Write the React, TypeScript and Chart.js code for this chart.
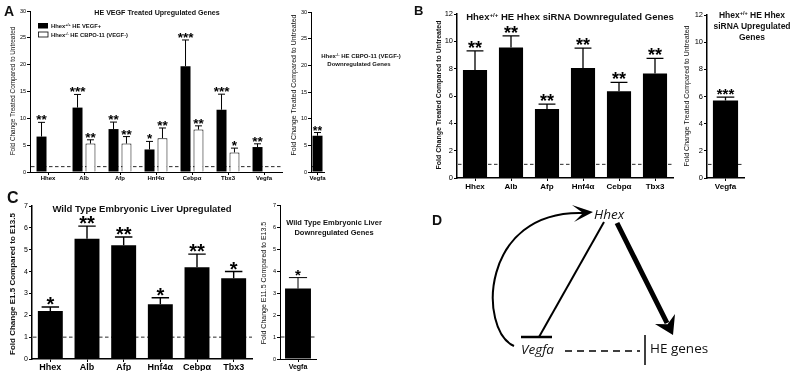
import React, { useEffect, useRef } from 'react';
import { Chart, registerables } from 'chart.js';

Chart.register(...registerables);

const FONT = '"Liberation Sans", Arial, Helvetica, sans-serif';
const DFONT = '"Open Sans", "Noto Sans", sans-serif';

// ---------- Panel A : HE VEGF treated ----------
const aGenes = ['Hhex', 'Alb', 'Afp', 'Hnf4α', 'Cebpα', 'Tbx3', 'Vegfa'];
const aVegfPlus = [6.6, 12.0, 8.0, 4.2, 19.7, 11.6, 4.65];
const aVegfPlusSem = [2.65, 2.45, 1.3, 1.5, 4.9, 2.9, 0.6];
const aVegfPlusStars = ['**', '***', '**', '*', '***', '***', '**'];
const aCbpo = [null, 5.3, 5.3, 6.3, 7.9, 3.65, null];
const aCbpoSem = [null, 0.7, 1.3, 1.9, 0.7, 0.8, null];
const aCbpoStars = ['', '**', '**', '**', '**', '*', ''];
const aDownGenes = ['Vegfa'];
const aDownValues = [6.8];
const aDownSem = [0.6];
const aDownStars = ['**'];

// ---------- Panel B : Hhex siRNA ----------
const bGenes = ['Hhex', 'Alb', 'Afp', 'Hnf4α', 'Cebpα', 'Tbx3'];
const bDown = [7.9, 9.55, 5.05, 8.05, 6.35, 7.65];
const bDownSem = [1.4, 0.85, 0.35, 1.45, 0.65, 1.1];
const bDownStars = ['**', '**', '**', '**', '**', '**'];
const bUpGenes = ['Vegfa'];
const bUp = [5.7];
const bUpSem = [0.25];
const bUpStars = ['***'];

// ---------- Panel C : wild type embryonic liver ----------
const cGenes = ['Hhex', 'Alb', 'Afp', 'Hnf4α', 'Cebpα', 'Tbx3'];
const cUp = [2.2, 5.5, 5.2, 2.5, 4.2, 3.7];
const cUpSem = [0.18, 0.58, 0.38, 0.3, 0.6, 0.3];
const cUpStars = ['*', '**', '**', '*', '**', '*'];
const cDownGenes = ['Vegfa'];
const cDown = [3.2];
const cDownSem = [0.5];
const cDownStars = ['*'];

const aYMax = 30, aYStep = 5;
const bYMax = 12, bYStep = 2;
const cYMax = 7, cYStep = 1;

interface Series { values: (number | null)[]; sem: (number | null)[]; stars: string[]; fill: string; border: number; }
interface PanelCfg {
  labels: string[]; series: Series[];
  axisX: number; axisR: number; yTop: number; yZero: number; yW: number; xH: number;
  yMax: number; yStep: number; barPct: number; catPct: number;
  yTickSize: number; xTickSize: number; xPad: number; axisW: number;
  starSize: number; starGap: number; capRatio: number; errW: number;
}

const black = (values: (number | null)[], sem: (number | null)[], stars: string[]): Series => ({ values, sem, stars, fill: '#000', border: 0 });
const white = (values: (number | null)[], sem: (number | null)[], stars: string[]): Series => ({ values, sem, stars, fill: '#fff', border: 1 });

const panels: PanelCfg[] = [
  { labels: aGenes, series: [black(aVegfPlus, aVegfPlusSem, aVegfPlusStars), white(aCbpo, aCbpoSem, aCbpoStars)],
    axisX: 30, axisR: 282, yTop: 11, yZero: 172, yW: 24, xH: 14, yMax: aYMax, yStep: aYStep, barPct: 0.77, catPct: 0.72,
    yTickSize: 5.5, xTickSize: 6, xPad: 0, axisW: 1, starSize: 13.5, starGap: 2, capRatio: 0.35, errW: 1 },
  { labels: aDownGenes, series: [black(aDownValues, aDownSem, aDownStars)],
    axisX: 311, axisR: 324, yTop: 12, yZero: 172, yW: 20, xH: 14, yMax: aYMax, yStep: aYStep, barPct: 0.77, catPct: 1,
    yTickSize: 5.5, xTickSize: 6, xPad: 0, axisW: 1, starSize: 12, starGap: 1.5, capRatio: 0.35, errW: 1 },
  { labels: bGenes, series: [black(bDown, bDownSem, bDownStars)],
    axisX: 457, axisR: 673, yTop: 14, yZero: 178, yW: 20, xH: 14, yMax: bYMax, yStep: bYStep, barPct: 0.67, catPct: 1,
    yTickSize: 7.5, xTickSize: 8, xPad: 1, axisW: 1.5, starSize: 18, starGap: 3, capRatio: 0.35, errW: 1.3 },
  { labels: bUpGenes, series: [black(bUp, bUpSem, bUpStars)],
    axisX: 707, axisR: 744, yTop: 15, yZero: 178, yW: 20, xH: 14, yMax: bYMax, yStep: bYStep, barPct: 0.68, catPct: 1,
    yTickSize: 7.5, xTickSize: 8, xPad: 1, axisW: 1.5, starSize: 15, starGap: 2.5, capRatio: 0.35, errW: 1.3 },
  { labels: cGenes, series: [black(cUp, cUpSem, cUpStars)],
    axisX: 32, axisR: 252, yTop: 206, yZero: 359, yW: 24, xH: 12, yMax: cYMax, yStep: cYStep, barPct: 0.68, catPct: 1,
    yTickSize: 7, xTickSize: 9, xPad: 0.5, axisW: 1.5, starSize: 20, starGap: 2, capRatio: 0.35, errW: 1.4 },
  { labels: cDownGenes, series: [black(cDown, cDownSem, cDownStars)],
    axisX: 280, axisR: 316, yTop: 205, yZero: 359, yW: 14, xH: 12, yMax: cYMax, yStep: cYStep, barPct: 0.72, catPct: 1,
    yTickSize: 5.5, xTickSize: 7, xPad: 0.5, axisW: 1, starSize: 15, starGap: 2, capRatio: 0.35, errW: 1 },
];

const overlayPlugin = {
  id: 'overlay',
  beforeDatasetsDraw(chart: any) {
    const { ctx, chartArea, scales } = chart;
    const y = scales.y.getPixelForValue(1);
    ctx.save();
    ctx.strokeStyle = '#111';
    ctx.lineWidth = 0.9;
    ctx.setLineDash([3.5, 2.5]);
    ctx.beginPath();
    ctx.moveTo(chartArea.left + 1, y);
    ctx.lineTo(chartArea.right, y);
    ctx.stroke();
    ctx.restore();
  },
  afterDatasetsDraw(chart: any, _args: any, opts: any) {
    const { ctx, scales } = chart;
    chart.data.datasets.forEach((ds: any, di: number) => {
      const meta = chart.getDatasetMeta(di);
      meta.data.forEach((bar: any, i: number) => {
        const v = ds.data[i];
        const e = ds.sem[i];
        if (v == null || e == null) return;
        const x = bar.x;
        const w = bar.width;
        const yv = scales.y.getPixelForValue(v);
        const ye = scales.y.getPixelForValue(v + e);
        ctx.save();
        ctx.strokeStyle = '#000';
        ctx.lineWidth = opts.errW;
        ctx.beginPath();
        ctx.moveTo(x, yv);
        ctx.lineTo(x, ye);
        ctx.moveTo(x - w * opts.capRatio, ye);
        ctx.lineTo(x + w * opts.capRatio, ye);
        ctx.stroke();
        const s = ds.stars[i];
        if (s) {
          ctx.font = `bold ${opts.starSize}px ${FONT}`;
          ctx.textAlign = 'center';
          ctx.textBaseline = 'alphabetic';
          ctx.fillStyle = '#000';
          const m = ctx.measureText(s);
          ctx.fillText(s, x, ye - opts.starGap - m.actualBoundingBoxDescent);
        }
        ctx.restore();
      });
    });
  },
};

function buildChart(canvas: HTMLCanvasElement, p: PanelCfg) {
  return new Chart(canvas, {
    type: 'bar',
    data: {
      labels: p.labels,
      datasets: p.series.map((s) => ({
        data: s.values as any,
        sem: s.sem,
        stars: s.stars,
        backgroundColor: s.fill,
        borderColor: '#000',
        borderWidth: s.border,
        barPercentage: p.barPct,
        categoryPercentage: p.catPct,
      })) as any,
    },
    options: {
      animation: false,
      responsive: false,
      maintainAspectRatio: false,
      events: [],
      layout: {
        autoPadding: false,
        padding: { left: p.axisX - p.yW, top: p.yTop, right: 796 - p.axisR, bottom: 372 - p.yZero - p.xH },
      },
      plugins: {
        legend: { display: false },
        tooltip: { enabled: false },
        title: { display: false },
        overlay: { starSize: p.starSize, starGap: p.starGap, capRatio: p.capRatio, errW: p.errW },
      } as any,
      scales: {
        x: {
          type: 'category',
          offset: true,
          grid: { display: true, drawOnChartArea: false, drawTicks: true, tickLength: 3, offset: false, color: '#000', lineWidth: 1 },
          border: { display: true, color: '#000', width: p.axisW },
          ticks: { color: '#000', font: { family: FONT, size: p.xTickSize, weight: 'bold' }, padding: p.xPad, maxRotation: 0, autoSkip: false },
          afterFit: (s: any) => { s.height = p.xH; },
        },
        y: {
          min: 0,
          max: p.yMax,
          ticks: { stepSize: p.yStep, color: '#000', font: { family: FONT, size: p.yTickSize }, padding: 1 },
          grid: { display: true, drawOnChartArea: false, drawTicks: true, tickLength: 3, color: '#000', lineWidth: 1 },
          border: { display: true, color: '#000', width: p.axisW },
          afterFit: (s: any) => { s.width = p.yW; },
        },
      },
    } as any,
    plugins: [overlayPlugin as any],
  });
}

function BarPanel({ cfg }: { cfg: PanelCfg }) {
  const ref = useRef<HTMLCanvasElement>(null);
  useEffect(() => {
    const chart = buildChart(ref.current as HTMLCanvasElement, cfg);
    return () => chart.destroy();
  }, [cfg]);
  return <canvas ref={ref} width={796} height={372} style={{ position: 'absolute', left: 0, top: 0 }} />;
}

const Sup = ({ t }: { t: string }) => <tspan baselineShift="super" fontSize="65%">{t}</tspan>;

function Texts() {
  return (
    <svg width={796} height={372} style={{ position: 'absolute', left: 0, top: 0, pointerEvents: 'none' }} fontFamily={FONT} fill="#111">
      {/* Panel A */}
      <text x={4} y={16} fontSize={14} fontWeight="bold">A</text>
      <text x={157} y={15} fontSize={7.1} fontWeight="bold" textAnchor="middle">HE VEGF Treated Upregulated Genes</text>
      <rect x={38} y={23} width={10} height={5.5} fill="#000" />
      <text x={51} y={28.3} fontSize={5.8} fontWeight="bold">Hhex<Sup t="+/+" /> HE VEGF+</text>
      <rect x={38.5} y={32} width={9.5} height={5} fill="#fff" stroke="#000" strokeWidth={0.8} />
      <text x={51} y={37.3} fontSize={5.8} fontWeight="bold">Hhex<Sup t="-/-" /> HE CBPO-11 (VEGF-)</text>
      <text transform="translate(12,91) rotate(-90)" fontSize={6.4} textAnchor="middle" dominantBaseline="central">Fold Change Treated Compared to Untreated</text>
      <text transform="translate(293,85) rotate(-90)" fontSize={7} textAnchor="middle" dominantBaseline="central">Fold Change Treated Compared to Untreated</text>
      <text x={361} y={58} fontSize={6} fontWeight="bold" textAnchor="middle">Hhex<Sup t="-/-" /> HE CBPO-11 (VEGF-)</text>
      <text x={359} y={65.5} fontSize={6} fontWeight="bold" textAnchor="middle">Downregulated Genes</text>

      {/* Panel B */}
      <text x={414} y={15} fontSize={13} fontWeight="bold">B</text>
      <text x={570} y={20} fontSize={9.5} fontWeight="bold" textAnchor="middle">Hhex<Sup t="+/+" /> HE Hhex siRNA Downregulated Genes</text>
      <text transform="translate(438,95) rotate(-90)" fontSize={7} fontWeight="bold" textAnchor="middle" dominantBaseline="central">Fold Change Treated Compared to Untreated</text>
      <text x={752} y={18} fontSize={8.5} fontWeight="bold" textAnchor="middle">Hhex<Sup t="+/+" /> HE Hhex</text>
      <text x={752} y={29} fontSize={8.5} fontWeight="bold" textAnchor="middle">siRNA Upregulated</text>
      <text x={752} y={40} fontSize={8.5} fontWeight="bold" textAnchor="middle">Genes</text>
      <text transform="translate(686,96) rotate(-90)" fontSize={7} textAnchor="middle" dominantBaseline="central">Fold Change Treated Compared to Untreated</text>

      {/* Panel C */}
      <text x={7} y={203} fontSize={16} fontWeight="bold">C</text>
      <text x={142} y={212} fontSize={9.5} fontWeight="bold" textAnchor="middle">Wild Type Embryonic Liver Upregulated</text>
      <text transform="translate(12,284) rotate(-90)" fontSize={8} fontWeight="bold" textAnchor="middle" dominantBaseline="central">Fold Change E1.5 Compared to E13.5</text>
      <text transform="translate(263,283) rotate(-90)" fontSize={7} textAnchor="middle" dominantBaseline="central">Fold Change E11.5 Compared to E13.5</text>
      <text x={334} y={225} fontSize={7.5} fontWeight="bold" textAnchor="middle">Wild Type Embryonic Liver</text>
      <text x={334} y={235} fontSize={7.5} fontWeight="bold" textAnchor="middle">Downregulated Genes</text>

      {/* Panel D */}
      <text x={432} y={225} fontSize={14} fontWeight="bold">D</text>
      <g fontFamily={DFONT}>
        <text x={594} y={219} fontSize={13.5} fontStyle="italic">Hhex</text>
        <text x={521} y={354} fontSize={13.5} fontStyle="italic">Vegfa</text>
        <text x={650} y={353} fontSize={13.5}>HE genes</text>
      </g>
      <path d="M514,346 C478,330 480,210 583,213" fill="none" stroke="#000" strokeWidth={2} />
      <polygon points="593,212 572,205 583,213 574,222" fill="#000" />
      <line x1={604} y1={222} x2={539} y2={337} stroke="#000" strokeWidth={2} />
      <line x1={521} y1={337} x2={552} y2={337} stroke="#000" strokeWidth={2.5} />
      <line x1={617} y1={223} x2={667} y2={323} stroke="#000" strokeWidth={5} />
      <polygon points="673,335 655,324 667.6,324.3 675,314" fill="#000" />
      <line x1={565} y1={351} x2={640} y2={351} stroke="#000" strokeWidth={1.5} strokeDasharray="7 5" />
      <line x1={645} y1={335} x2={645} y2={365} stroke="#000" strokeWidth={1.5} />
    </svg>
  );
}

export default function App() {
  return (
    <div style={{ position: 'absolute', left: 0, top: 0, width: 796, height: 372, background: '#fff', overflow: 'hidden' }}>
      {panels.map((p, i) => <BarPanel key={i} cfg={p} />)}
      <Texts />
    </div>
  );
}
